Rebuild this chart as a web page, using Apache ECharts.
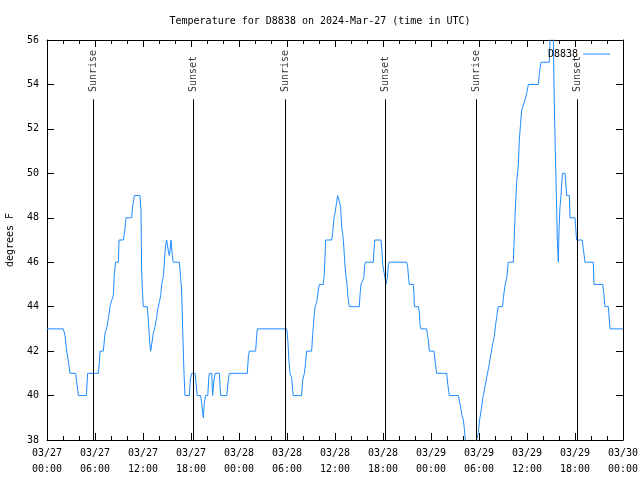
<!DOCTYPE html>
<html>
<head>
<meta charset="utf-8">
<script src="https://cdn.jsdelivr.net/npm/echarts@6/dist/echarts.min.js"></script>
<style>html,body{margin:0;padding:0;background:#fff}#c{width:640px;height:480px}</style>
</head>
<body>
<div id="c"></div>
<script>
// Hours since 2024-03-27 00:00 UTC and temperature (deg F)
const hours = [0,2.04,2.25,2.46,2.65,2.88,3.58,3.92,4.92,5.08,6.42,6.55,6.63,7.04,7.25,7.5,7.7,7.875,8.1,8.29,8.42,8.58,8.92,9.0,9.54,9.75,9.875,10.58,10.7,10.92,11.625,11.75,11.83,11.96,12.04,12.54,12.7,12.85,12.96,13.17,13.29,13.5,13.7,13.83,14.04,14.21,14.33,14.54,14.67,14.83,14.96,15.17,15.29,15.38,15.5,15.67,15.79,16.54,16.71,16.83,16.96,17.125,17.25,17.79,17.92,18.08,18.5,18.71,18.79,19.21,19.33,19.54,19.67,19.83,20.1,20.2,20.29,20.6,20.7,20.87,21.04,21.54,21.71,22.46,22.67,22.79,25.04,25.17,25.29,26.08,26.17,26.29,29.96,30.1,30.25,30.375,30.58,30.7,30.79,31.83,31.96,32.17,32.33,32.46,33.08,33.2,33.29,33.42,33.5,33.71,33.92,34.04,34.54,34.67,34.83,35.58,35.71,35.875,36.0,36.2,36.33,36.54,36.7,36.83,36.96,37.1,37.2,37.33,37.5,37.63,37.79,39.04,39.125,39.25,39.5,39.6,39.7,39.79,40.79,40.87,40.96,41.75,41.87,41.96,42.1,42.25,42.375,42.54,42.67,42.79,44.96,45.08,45.2,45.29,45.79,45.875,45.92,46.42,46.54,46.625,46.75,47.46,47.54,47.67,47.79,48.375,48.5,48.7,49.96,50.1,50.29,51.42,51.54,51.7,51.87,52.04,52.17,52.29,53.0,53.7,53.9,54.1,54.3,54.5,54.7,54.9,55.1,55.3,55.5,55.7,55.9,56.1,56.4,56.96,57.04,57.25,57.46,57.67,58.29,58.375,58.5,58.7,58.92,59.04,59.2,59.33,59.75,59.96,60.17,61.42,61.54,61.75,62.79,62.92,63.1,63.29,63.42,63.54,63.67,63.79,63.92,64.0,64.125,64.25,64.42,64.75,64.96,65.29,65.375,66.0,66.08,66.2,66.9,67.04,67.25,68.29,68.375,69.46,69.6,69.75,70.17,70.375,72];
const temps = [43,43,42.7,42,41.6,41,41,40,40,41,41,41.5,42,42,42.8,43.1,43.55,44,44.3,44.5,45.5,46,46,47,47,47.5,48,48,48.5,49,49,48.35,45.6,44.5,44,44,43.25,42.35,42,42.5,42.8,43.1,43.5,43.85,44.2,44.5,45,45.35,46,46.8,47,46.5,46.3,46.5,47,46.3,46,46,45.3,44.75,43,41,40,40,40.7,41,41,40.25,40,40,39.65,39,39.7,40,40,40.7,41,41,40,40.7,41,41,40,40,40.7,41,41,41.75,42,42,42.5,43,43,42.5,41.5,41,40.8,40.3,40,40,40.7,41,41.5,42,42,42.7,43.1,43.7,44,44.2,44.75,45,45,45.5,47,47,47.3,48,48.2,48.7,49,49,48.5,47.6,47.3,46.7,46.1,45.5,45,44.4,44,44,44.5,45,45,45.3,45.8,46,46,46.5,47,47,46.5,45.9,45.6,45.3,45,45.3,45.9,46,46,45.8,45.3,45,45,44.5,44,44,43.75,43.2,43,43,42.75,42.5,42,42,41.6,41,41,40.5,40,40,39.75,39.5,39.1,38.9,38.5,38,37.2,38,38.3,38.97,39.4,39.95,40.3,40.7,41.07,41.45,41.9,42.3,42.65,43.25,44,44,44.4,44.95,45.3,46,46,46.8,48.05,49.55,50.4,51.5,52.25,52.85,53.3,53.6,54,54,54.5,55,55,56.5,58,56,53,51,49,47,46,47.45,48.5,49,50,50,49,49,48,48,47.6,47,47,46.6,46,46,45,45,44.6,44,44,43,43];

const tickLabels = ['03/27\n00:00','03/27\n06:00','03/27\n12:00','03/27\n18:00','03/28\n00:00','03/28\n06:00','03/28\n12:00','03/28\n18:00','03/29\n00:00','03/29\n06:00','03/29\n12:00','03/29\n18:00','03/30\n00:00'];
const sunHours = [5.8, 18.29, 29.8, 42.3, 53.7, 66.3];
const sunNames = ['Sunrise','Sunset','Sunrise','Sunset','Sunrise','Sunset'];
const seriesName = 'D8838';

const FONT = 'DejaVu Sans Mono';
const lineTop = 53.33, labelBase = 53.66;

const chart = echarts.init(document.getElementById('c'), null, {renderer:'canvas'});
const axisLineStyle = {color:'#000', width:1};
chart.setOption({
  animation:false,
  backgroundColor:'#fff',
  title:{text:'Temperature for D8838 on 2024-Mar-27 (time in UTC)', left:'center', top:11,
    textStyle:{fontFamily:FONT, fontSize:10, fontWeight:'normal', color:'#000'}},
  legend:{data:[{name:seriesName, icon:'rect'}], right:25, top:44, align:'right', itemWidth:27, itemHeight:1, itemGap:6,
    textStyle:{fontFamily:FONT, fontSize:10, color:'#000'}},
  grid:{left:47, right:17, top:40, bottom:40, containLabel:false, outerBoundsMode:'none'},
  xAxis:[{
    type:'value', min:0, max:72, interval:6, position:'bottom',
    axisLine:{show:true, onZero:false, lineStyle:axisLineStyle},
    axisTick:{show:true, inside:true, length:7, lineStyle:axisLineStyle},
    minorTick:{show:true, splitNumber:3, length:4, lineStyle:axisLineStyle},
    splitLine:{show:false},
    axisLabel:{fontFamily:FONT, fontSize:10, color:'#000', margin:5, lineHeight:16,
      formatter:v=>tickLabels[Math.round(v/6)]}
  },{
    type:'value', min:0, max:72, interval:6, position:'top',
    axisLine:{show:true, onZero:false, lineStyle:axisLineStyle},
    axisTick:{show:true, inside:true, length:7, lineStyle:axisLineStyle},
    minorTick:{show:true, splitNumber:3, length:4, lineStyle:axisLineStyle},
    splitLine:{show:false}, axisLabel:{show:false}
  }],
  yAxis:[{
    type:'value', min:38, max:56, interval:2, position:'left',
    name:'degrees F', nameLocation:'middle', nameGap:32, nameRotate:90,
    nameTextStyle:{fontFamily:FONT, fontSize:10, color:'#000'},
    axisLine:{show:true, onZero:false, lineStyle:axisLineStyle},
    axisTick:{show:true, inside:true, length:7, lineStyle:axisLineStyle},
    splitLine:{show:false},
    axisLabel:{fontFamily:FONT, fontSize:10, color:'#000', margin:8}
  },{
    type:'value', min:38, max:56, interval:2, position:'right',
    axisLine:{show:true, onZero:false, lineStyle:axisLineStyle},
    axisTick:{show:true, inside:true, length:7, lineStyle:axisLineStyle},
    splitLine:{show:false}, axisLabel:{show:false}
  }],
  series:[{
    name:seriesName, type:'line', symbol:'none', clip:true,
    data:hours.map((h,i)=>[h,temps[i]]),
    lineStyle:{color:'#1e8cff', width:1},
    itemStyle:{color:'#1e8cff'},
    markLine:{silent:true, symbol:['none','none'], label:{show:false},
      lineStyle:{color:'#000', width:1, type:'solid'},
      data:sunHours.map(h=>[{coord:[h,lineTop]},{coord:[h,38]}])}
  },{
    name:'sun', type:'scatter', symbolSize:0, silent:true,
    data:sunHours.map((h,i)=>({value:[h,labelBase], name:sunNames[i]})),
    label:{show:true, formatter:'{b}', position:'inside', rotate:90, align:'left', verticalAlign:'middle',
      fontFamily:FONT, fontSize:10, color:'#000'}
  }]
});
</script>
</body>
</html>
